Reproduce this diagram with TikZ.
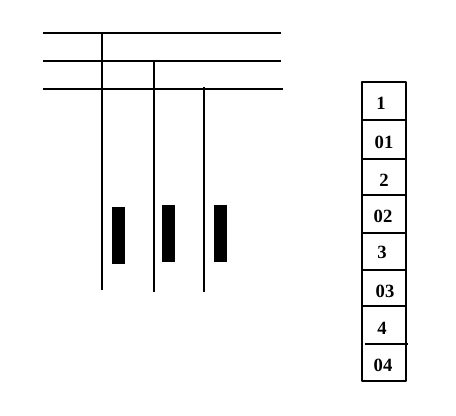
\documentclass[tikz,border=0pt]{standalone}
\usepackage{fontspec}
\setmainfont{Liberation Serif}
\tikzset{
	wire/.style={line width=1.2pt},
	bar/.style={fill=black, draw=none},
	cell/.style={font=\fontsize{14pt}{15pt}\selectfont\bfseries, inner sep=0pt}
}
\begin{document}
\begin{tikzpicture}[x=0.75pt, y=-0.75pt, line join=round]
	\useasboundingbox (0,0) rectangle (456,416);
	\path (43,33) coordinate (A1) ++(238,0) coordinate (B1)
	(43,61) coordinate (A2) ++(238,0) coordinate (B2)
	(43,89) coordinate (A3) ++(240,0) coordinate (B3)
	(102,32) coordinate (P1) (102,290) coordinate (Q1)
	(154,62) coordinate (P2) (154,292) coordinate (Q2)
	(204,87) coordinate (P3) (204,292) coordinate (Q3);
	\draw [wire] (A1)--(B1) (A2)--(B2) (A3)--(B3);
	\draw [wire] (P1)--(Q1) (P2)--(Q2) (P3)--(Q3);
	\fill [bar] (112,207) rectangle (125,264);
	\fill [bar] (162,205) rectangle (175,262);
	\fill [bar] (214,205) rectangle (227,262);
	% column on the right
	\draw [wire] (362,82) rectangle (406,381);
	\foreach \y in {120,159,195,233,270,306}{
		\draw [wire] (362,\y)--(406,\y);
	}
	\draw [wire] (365,344)--(408,344);
	\foreach \name/\x/\y/\t in {c1/381/103/1, c2/384/142/01, c3/384/180/2, c4/383/216/02,
		c5/382/252/3, c6/385/291/03, c7/382/328/4, c8/383/365/04}{
		\node [cell] (\name) at (\x,\y) {\t};
	}
\end{tikzpicture}
\end{document}
